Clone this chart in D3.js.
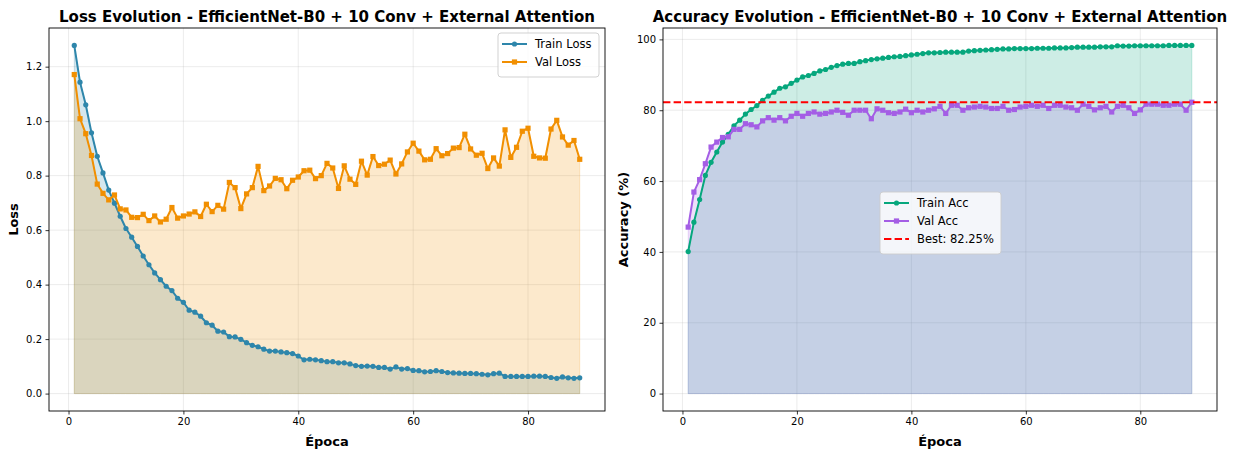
<!DOCTYPE html>
<html>
<head>
<meta charset="utf-8">
<script src="https://cdn.jsdelivr.net/npm/d3@7"></script>
<style>
  body { margin: 0; background: #fff; }
  text { font-family: "DejaVu Sans", sans-serif; }
</style>
</head>
<body>
<div id="vis"></div>
<script>
// values
var trainLoss = [1.278, 1.143, 1.060, 0.957, 0.871, 0.810, 0.747, 0.699, 0.651, 0.606,
  0.574, 0.540, 0.505, 0.473, 0.443, 0.418, 0.394, 0.378, 0.350, 0.335,
  0.306, 0.299, 0.284, 0.260, 0.251, 0.229, 0.226, 0.209, 0.208, 0.199,
  0.187, 0.177, 0.172, 0.163, 0.156, 0.156, 0.153, 0.150, 0.147, 0.138,
  0.124, 0.126, 0.124, 0.121, 0.117, 0.117, 0.113, 0.113, 0.109, 0.103,
  0.100, 0.101, 0.100, 0.096, 0.096, 0.090, 0.098, 0.090, 0.092, 0.085,
  0.084, 0.080, 0.081, 0.084, 0.081, 0.077, 0.076, 0.075, 0.074, 0.074,
  0.073, 0.071, 0.069, 0.073, 0.075, 0.063, 0.063, 0.063, 0.063, 0.063,
  0.064, 0.064, 0.063, 0.059, 0.056, 0.061, 0.058, 0.056, 0.058];
var valLoss = [1.171, 1.009, 0.954, 0.874, 0.769, 0.735, 0.711, 0.729, 0.678, 0.674,
  0.647, 0.646, 0.658, 0.635, 0.652, 0.630, 0.640, 0.683, 0.644, 0.652,
  0.659, 0.667, 0.650, 0.695, 0.668, 0.691, 0.677, 0.775, 0.756, 0.679,
  0.733, 0.756, 0.834, 0.745, 0.762, 0.790, 0.785, 0.752, 0.783, 0.795,
  0.818, 0.820, 0.789, 0.800, 0.845, 0.828, 0.753, 0.836, 0.787, 0.768,
  0.853, 0.802, 0.870, 0.837, 0.842, 0.857, 0.806, 0.843, 0.887, 0.919,
  0.890, 0.858, 0.860, 0.899, 0.873, 0.881, 0.901, 0.903, 0.952, 0.898,
  0.875, 0.882, 0.826, 0.865, 0.835, 0.968, 0.867, 0.904, 0.963, 0.974,
  0.871, 0.865, 0.864, 0.971, 1.003, 0.942, 0.912, 0.929, 0.860];
var trainAcc = [40.1, 48.4, 54.8, 61.6, 65.3, 68.2, 71.0, 73.2, 75.6, 77.2,
  78.9, 80.2, 81.3, 82.8, 84.0, 85.1, 86.2, 86.6, 87.6, 88.5,
  89.4, 89.8, 90.4, 91.1, 91.5, 92.1, 92.6, 93.0, 93.2, 93.2,
  93.7, 94.0, 94.3, 94.5, 94.7, 94.9, 95.1, 95.2, 95.4, 95.6,
  95.8, 96.0, 96.2, 96.2, 96.3, 96.4, 96.4, 96.4, 96.4, 96.7,
  96.8, 96.9, 97.0, 97.1, 97.2, 97.3, 97.3, 97.4, 97.4, 97.4,
  97.4, 97.5, 97.5, 97.5, 97.6, 97.6, 97.6, 97.7, 97.8, 97.8,
  97.8, 97.8, 97.9, 97.9, 97.9, 98.2, 98.1, 98.1, 98.2, 98.2,
  98.2, 98.2, 98.2, 98.2, 98.3, 98.3, 98.3, 98.3, 98.3];
var valAcc = [47.0, 56.9, 60.4, 64.9, 69.6, 71.0, 72.3, 72.5, 74.6, 74.6,
  76.2, 75.9, 75.3, 77.0, 77.9, 77.2, 77.9, 77.0, 78.3, 79.1,
  78.3, 79.1, 79.5, 78.9, 79.1, 79.5, 80.0, 79.4, 78.6, 80.0,
  80.0, 80.0, 77.6, 80.4, 80.0, 79.3, 79.1, 79.5, 80.3, 79.3,
  80.0, 79.5, 80.0, 80.4, 81.1, 79.1, 81.4, 81.4, 80.0, 80.7,
  80.9, 81.1, 80.9, 80.5, 80.5, 81.1, 80.0, 80.2, 80.9, 81.1,
  81.4, 81.1, 81.4, 80.5, 81.4, 81.4, 80.9, 80.7, 80.0, 81.7,
  81.1, 80.1, 80.7, 81.1, 79.5, 81.1, 81.4, 80.7, 79.1, 80.1,
  81.7, 81.7, 81.7, 81.4, 81.4, 81.7, 81.7, 80.0, 82.25];
var bestAcc = 82.25;
var xTicks = [0, 20, 40, 60, 80];
var lossTicks = [0.0, 0.2, 0.4, 0.6, 0.8, 1.0, 1.2];
var accTicks = [0, 20, 40, 60, 80, 100];

var epochs = d3.range(1, trainLoss.length + 1);

var width = 1235, height = 450;
var svg = d3.select("#vis").append("svg")
    .attr("width", width)
    .attr("height", height);

// matplotlib-like 5% margins
function padded(lo, hi) {
    var m = (hi - lo) * 0.05;
    return [lo - m, hi + m];
}

function drawPanel(opts) {
    var x = d3.scaleLinear().domain(padded(1, epochs.length)).range([opts.left, opts.right]);
    var y = d3.scaleLinear().domain(opts.ydomain).range([411, 28]);
    var g = svg.append("g");

    // grid
    g.selectAll(".gx").data(xTicks).enter().append("line")
        .attr("x1", function(d) { return x(d); }).attr("x2", function(d) { return x(d); })
        .attr("y1", 28).attr("y2", 411)
        .attr("stroke", "#b0b0b0").attr("stroke-opacity", 0.3).attr("stroke-width", 0.8);
    g.selectAll(".gy").data(opts.yticks).enter().append("line")
        .attr("x1", opts.left).attr("x2", opts.right)
        .attr("y1", function(d) { return y(d); }).attr("y2", function(d) { return y(d); })
        .attr("stroke", "#b0b0b0").attr("stroke-opacity", 0.3).attr("stroke-width", 0.8);

    // fills
    opts.series.forEach(function(s) {
        var area = d3.area()
            .x(function(d, i) { return x(epochs[i]); })
            .y0(y(0))
            .y1(function(d) { return y(d); });
        g.append("path").datum(s.values)
            .attr("d", area)
            .attr("fill", s.color).attr("fill-opacity", 0.2)
            .attr("stroke", s.color).attr("stroke-opacity", 0.2).attr("stroke-width", 1);
    });

    // lines + markers
    opts.series.forEach(function(s) {
        var line = d3.line()
            .x(function(d, i) { return x(epochs[i]); })
            .y(function(d) { return y(d); });
        g.append("path").datum(s.values)
            .attr("d", line)
            .attr("fill", "none").attr("stroke", s.color).attr("stroke-width", 2)
            .attr("stroke-linejoin", "round");
        if (s.marker === "circle") {
            g.selectAll(null).data(s.values).enter().append("circle")
                .attr("cx", function(d, i) { return x(epochs[i]); })
                .attr("cy", function(d) { return y(d); })
                .attr("r", 2.6).attr("fill", s.color);
        } else {
            g.selectAll(null).data(s.values).enter().append("rect")
                .attr("x", function(d, i) { return x(epochs[i]) - 2.6; })
                .attr("y", function(d) { return y(d) - 2.6; })
                .attr("width", 5.2).attr("height", 5.2).attr("fill", s.color);
        }
    });

    if (opts.best !== undefined) {
        g.append("line")
            .attr("x1", opts.left).attr("x2", opts.right)
            .attr("y1", y(opts.best)).attr("y2", y(opts.best))
            .attr("stroke", "#ff0000").attr("stroke-width", 2)
            .attr("stroke-dasharray", "7.4,3.2");
    }

    // frame
    g.append("rect")
        .attr("x", opts.left).attr("y", 28)
        .attr("width", opts.right - opts.left).attr("height", 411 - 28)
        .attr("fill", "none").attr("stroke", "#000").attr("stroke-width", 0.9);

    // axes
    var xa = g.append("g").attr("transform", "translate(0,411)")
        .call(d3.axisBottom(x).tickValues(xTicks).tickFormat(d3.format("d")).tickSize(3.5).tickPadding(3.5));
    var ya = g.append("g").attr("transform", "translate(" + opts.left + ",0)")
        .call(d3.axisLeft(y).tickValues(opts.yticks).tickFormat(opts.yfmt).tickSize(3.5).tickPadding(3.5));
    [xa, ya].forEach(function(a) {
        a.select(".domain").remove();
        a.selectAll("line").attr("stroke", "#000").attr("stroke-width", 0.8);
        a.selectAll("text").attr("font-family", "DejaVu Sans").attr("font-size", 10).attr("fill", "#000");
    });

    // labels
    g.append("text")
        .attr("x", (opts.left + opts.right) / 2).attr("y", 21.5)
        .attr("text-anchor", "middle")
        .attr("font-size", 15).attr("font-weight", "bold")
        .text(opts.title);
    g.append("text")
        .attr("x", (opts.left + opts.right) / 2).attr("y", 446)
        .attr("text-anchor", "middle")
        .attr("font-size", 13).attr("font-weight", "bold")
        .text("Época");
    g.append("text")
        .attr("transform", "translate(" + opts.ylabelX + "," + (28 + 411) / 2 + ") rotate(-90)")
        .attr("text-anchor", "middle")
        .attr("font-size", 13).attr("font-weight", "bold")
        .text(opts.ylabel);

    // legend
    var lg = g.append("g").attr("transform", "translate(" + opts.legend.x + "," + opts.legend.y + ")");
    var items = opts.series.slice();
    if (opts.best !== undefined) items.push({ name: "Best: " + opts.best.toFixed(2) + "%", color: "#ff0000", dash: true });
    lg.append("rect")
        .attr("width", opts.legend.w).attr("height", 8 + items.length * 18)
        .attr("rx", 3)
        .attr("fill", "#fff").attr("fill-opacity", 0.8)
        .attr("stroke", "#cccccc").attr("stroke-width", 0.9);
    items.forEach(function(s, i) {
        var cy = 11 + i * 18;
        lg.append("line").attr("x1", 4).attr("x2", 29).attr("y1", cy).attr("y2", cy)
            .attr("stroke", s.color).attr("stroke-width", 2)
            .attr("stroke-dasharray", s.dash ? "7.4,3.2" : null);
        if (s.marker === "circle") {
            lg.append("circle").attr("cx", 16.5).attr("cy", cy).attr("r", 2.6).attr("fill", s.color);
        } else if (s.marker === "square") {
            lg.append("rect").attr("x", 13.9).attr("y", cy - 2.6).attr("width", 5.2).attr("height", 5.2).attr("fill", s.color);
        }
        lg.append("text").attr("x", 37).attr("y", cy + 4)
            .attr("font-size", 11.5).attr("fill", "#000")
            .text(s.name);
    });
}

drawPanel({
    left: 49, right: 605,
    ydomain: padded(0, d3.max(trainLoss.concat(valLoss))),
    yticks: lossTicks, yfmt: d3.format(".1f"),
    title: "Loss Evolution - EfficientNet-B0 + 10 Conv + External Attention",
    ylabel: "Loss", ylabelX: 18,
    series: [
        { name: "Train Loss", values: trainLoss, color: "#2E86AB", marker: "circle" },
        { name: "Val Loss", values: valLoss, color: "#F18F01", marker: "square" }
    ],
    legend: { x: 498, y: 33, w: 101 }
});

drawPanel({
    left: 663, right: 1217,
    ydomain: padded(0, d3.max(trainAcc.concat(valAcc))),
    yticks: accTicks, yfmt: d3.format("d"),
    title: "Accuracy Evolution - EfficientNet-B0 + 10 Conv + External Attention",
    ylabel: "Accuracy (%)", ylabelX: 628,
    series: [
        { name: "Train Acc", values: trainAcc, color: "#06A77D", marker: "circle" },
        { name: "Val Acc", values: valAcc, color: "#A45EE5", marker: "square" }
    ],
    best: bestAcc,
    legend: { x: 880, y: 192, w: 121 }
});
</script>
</body>
</html>
